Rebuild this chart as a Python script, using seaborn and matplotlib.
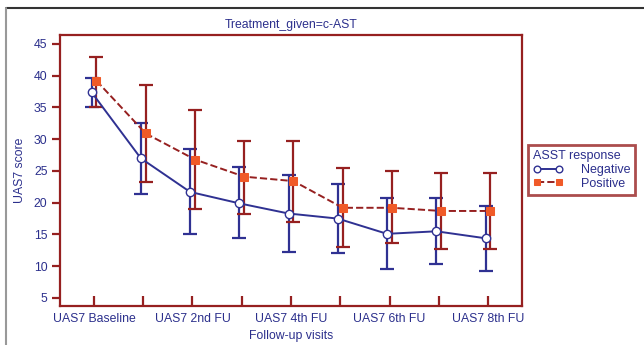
import matplotlib
matplotlib.use("Agg")
import matplotlib.pyplot as plt
from matplotlib.lines import Line2D
import seaborn as sns
import numpy as np
import pandas as pd

visits = ["UAS7 Baseline", "UAS7 1st FU", "UAS7 2nd FU", "UAS7 3rd FU", "UAS7 4th FU",
          "UAS7 5th FU", "UAS7 6th FU", "UAS7 7th FU", "UAS7 8th FU"]
shown_labels = ["UAS7 Baseline", "", "UAS7 2nd FU", "", "UAS7 4th FU",
                "", "UAS7 6th FU", "", "UAS7 8th FU"]

neg_mean = [37.4, 27.0, 21.7, 19.9, 18.3, 17.5, 15.1, 15.5, 14.4]
neg_low = [35.1, 21.3, 15.0, 14.4, 12.2, 12.1, 9.5, 10.3, 9.3]
neg_high = [39.6, 32.6, 28.4, 25.6, 24.4, 23.0, 20.8, 20.7, 19.5]

pos_mean = [39.2, 30.9, 26.8, 24.1, 23.4, 19.2, 19.2, 18.7, 18.7]
pos_low = [35.0, 23.2, 19.0, 18.2, 17.0, 13.0, 13.6, 12.7, 12.7]
pos_high = [43.0, 38.5, 34.6, 29.7, 29.7, 25.5, 25.0, 24.7, 24.7]

navy = "#2f3192"
dred = "#962020"
orange = "#f05a28"
txt = "#2b2f8c"

sns.set_style("white")
plt.rcParams["font.family"] = ["Liberation Sans", "DejaVu Sans"]

fig = plt.figure(figsize=(6.44, 3.45), dpi=100)
ax = fig.add_axes([60 / 644, 1 - 306 / 345, 462 / 644, 271 / 345])

x = np.arange(len(visits))
off = 0.05
df = pd.DataFrame({
    "x": np.concatenate([x - off, x + off]),
    "score": neg_mean + pos_mean,
    "ASST response": ["Negative"] * len(x) + ["Positive"] * len(x),
})

# error bars first, then lines with markers on top
ax.errorbar(x - off, neg_mean,
            yerr=[np.array(neg_mean) - np.array(neg_low), np.array(neg_high) - np.array(neg_mean)],
            fmt="none", ecolor=navy, elinewidth=1.6, capsize=5, capthick=1.6, zorder=2)
ax.errorbar(x + off, pos_mean,
            yerr=[np.array(pos_mean) - np.array(pos_low), np.array(pos_high) - np.array(pos_mean)],
            fmt="none", ecolor=dred, elinewidth=1.6, capsize=5, capthick=1.6, zorder=2)

neg = df[df["ASST response"] == "Negative"]
pos = df[df["ASST response"] == "Positive"]
sns.lineplot(data=neg, x="x", y="score", ax=ax, color=navy, lw=1.4, marker="o",
             markersize=6, markerfacecolor="white", markeredgecolor=navy,
             markeredgewidth=1.0, zorder=3, label="Negative")
sns.lineplot(data=pos, x="x", y="score", ax=ax, color=dred, lw=1.4, ls="--", marker="s",
             markersize=6, markerfacecolor=orange, markeredgecolor=orange,
             zorder=4, label="Positive")

ax.set_xlim(-0.69, 8.69)
ax.set_ylim(3.74, 46.4)
ax.set_yticks([5, 10, 15, 20, 25, 30, 35, 40, 45])
ax.set_xticks(x)
ax.set_xticklabels(shown_labels)

for s in ax.spines.values():
    s.set_visible(True)
    s.set_color(dred)
    s.set_linewidth(1.6)

ax.tick_params(axis="y", direction="out", length=6, width=1.6, color=dred,
               labelsize=8.8, labelcolor=txt, pad=3, left=True)
ax.tick_params(axis="x", direction="in", length=7, width=1.6, color=dred,
               labelsize=8.8, labelcolor=txt, pad=5, bottom=True)

ax.set_xlabel("Follow-up visits", color=txt, fontsize=8.8, labelpad=4)
ax.set_ylabel("UAS7 score", color=txt, fontsize=8.8, labelpad=6)
ax.set_title("Treatment_given=c-AST", color=txt, fontsize=8.8, pad=5)

leg = ax.legend(title="ASST response", loc="upper left",
                bbox_to_anchor=(528 / 644, 1 - 145 / 345), bbox_transform=fig.transFigure,
                fontsize=9, title_fontsize=9, numpoints=2, handlelength=2.4,
                markerscale=0.8, frameon=True, fancybox=False, borderpad=0.4,
                labelspacing=0.15, handletextpad=1.4, borderaxespad=0)
leg._legend_box.align = "left"
leg.get_frame().set_edgecolor(dred)
leg.get_frame().set_linewidth(2)
leg.get_title().set_color(txt)
for t in leg.get_texts():
    t.set_color(txt)

# outer frame of the panel
fig.add_artist(Line2D([6 / 644, 1], [1 - 8 / 345, 1 - 8 / 345], color="#333333", lw=1.5,
                      transform=fig.transFigure))
fig.add_artist(Line2D([6 / 644, 6 / 644], [0, 1 - 8 / 345], color="#999999", lw=1.5,
                      transform=fig.transFigure))

fig.savefig("out.png", dpi=100)
